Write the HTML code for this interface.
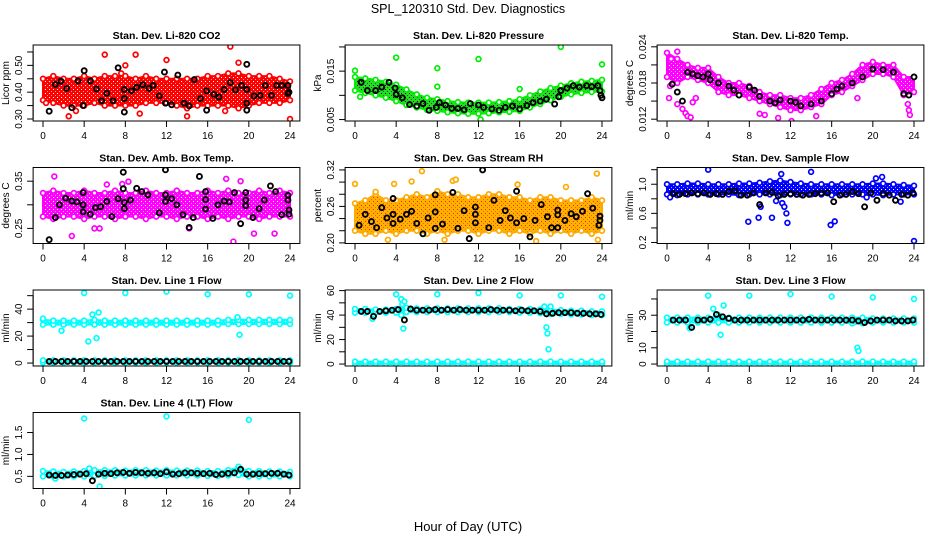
<!DOCTYPE html>
<html><head><meta charset="utf-8"><style>
html,body{margin:0;padding:0;background:#fff}
svg{display:block;font-family:"Liberation Sans",Arial,sans-serif}
</style></head><body>
<svg id="chart" width="936" height="540" viewBox="0 0 936 540" xmlns="http://www.w3.org/2000/svg">
<defs id="defs"></defs>
<rect width="936" height="540" fill="#fff"/>
<text x="468" y="13" text-anchor="middle" font-size="12.5">SPL_120310  Std. Dev. Diagnostics</text>
<text x="468" y="531" text-anchor="middle" font-size="13">Hour of Day (UTC)</text>
</svg>
<script>
const xTicks = [0,4,8,12,16,20,24];
const hours = [0,1,2,3,4,5,6,7,8,9,10,11,12,13,14,15,16,17,18,19,20,21,22,23,24];
const flowTimes = [0.6,1.2,1.8,2.4,3.0,3.6,4.2,4.8,5.4,6.0,6.6,7.2,7.8,8.4,9.0,9.6,10.2,10.8,11.4,12.0,12.6,13.2,13.8,14.4,15.0,15.6,16.2,16.8,17.4,18.0,18.6,19.2,19.8,20.4,21.0,21.6,22.2,22.8,23.4,23.9];

// CO2
const co2Lo = [0.37,0.36,0.35,0.35,0.35,0.36,0.35,0.35,0.35,0.35,0.36,0.36,0.36,0.35,0.34,0.35,0.35,0.35,0.35,0.34,0.35,0.36,0.36,0.36,0.37];
const co2Hi = [0.45,0.46,0.45,0.45,0.46,0.45,0.46,0.46,0.46,0.45,0.46,0.45,0.45,0.45,0.45,0.45,0.46,0.46,0.47,0.47,0.46,0.46,0.46,0.45,0.44];
const co2Out = [[0.3,0.36],[3.2,0.33],[6,0.54],[7.6,0.47],[8,0.5],[9,0.54],[9.4,0.32],[12,0.52],[14,0.31],[17.7,0.33],[18.2,0.57],[19,0.51],[24,0.3],[2.5,0.31]];
const co2Black = [[0.6,0.329],[1.2,0.429],[1.75,0.441],[2.3,0.414],[2.8,0.342],[3.4,0.442],[3.9,0.35],[4,0.48],[4.6,0.442],[5.2,0.412],[5.7,0.368],[6.2,0.396],[6.8,0.368],[7.3,0.491],[7.9,0.326],[7.9,0.376],[7.9,0.41],[8.6,0.405],[9.1,0.418],[9.7,0.428],[10.3,0.414],[10.7,0.425],[11.3,0.386],[11.8,0.475],[11.9,0.359],[12.5,0.353],[13.1,0.464],[13.7,0.359],[14.2,0.349],[14.7,0.447],[15.3,0.376],[15.9,0.333],[15.9,0.405],[16.6,0.392],[17.1,0.382],[17.6,0.41],[18.2,0.436],[18.7,0.409],[19.3,0.425],[19.8,0.504],[19.8,0.359],[19.8,0.333],[19.8,0.41],[20.5,0.386],[21.1,0.388],[21.6,0.425],[22.2,0.388],[22.7,0.425],[23.2,0.425],[23.8,0.425],[23.8,0.395],[23.9,0.40]];
const co2Ticks = [0.30,0.35,0.40,0.45,0.50,0.55];
const co2Labels = ["0.30","","0.40","","0.50",""];

// Pressure
const presLo = [0.0110,0.0105,0.0100,0.0095,0.0088,0.0080,0.0075,0.0070,0.0068,0.0065,0.0063,0.0062,0.0062,0.0063,0.0065,0.0066,0.0068,0.0075,0.0082,0.0090,0.0097,0.0102,0.0105,0.0107,0.0108];
const presHi = [0.0138,0.0135,0.0132,0.0128,0.0122,0.0112,0.0102,0.0095,0.0092,0.0088,0.0086,0.0085,0.0085,0.0085,0.0086,0.0088,0.0092,0.0100,0.0108,0.0115,0.0120,0.0125,0.0128,0.0130,0.0132];
const presOut = [[0,0.0151],[4,0.0178],[8,0.0156],[8,0.0118],[12,0.0175],[16,0.0113],[20,0.0200],[24,0.0164],[0.5,0.0097],[12.2,0.0050]];
const presBlack = [[0.6,0.0127],[1.2,0.0110],[2,0.0110],[2.6,0.0117],[3.3,0.0127],[3.9,0.0115],[4,0.0102],[4.6,0.0095],[5.3,0.0081],[6,0.0078],[6.6,0.0083],[7.2,0.0069],[7.9,0.0075],[8.2,0.0085],[8.8,0.0080],[9.4,0.0073],[10,0.0073],[10.6,0.0070],[11.2,0.0083],[12,0.0080],[12.5,0.0075],[13.3,0.0072],[14,0.0069],[14.6,0.0075],[15.3,0.0078],[16,0.0072],[16.7,0.0079],[17.3,0.0085],[18,0.0088],[18.6,0.0092],[19.4,0.0082],[19.8,0.0097],[20,0.0110],[20.6,0.0115],[21.2,0.0120],[21.8,0.0117],[22.5,0.0120],[23,0.0118],[23.6,0.0120],[23.8,0.0110],[23.9,0.0100],[24,0.0095]];
const presTicks = [0.005,0.010,0.015,0.020];
const presLabels = ["0.005","","0.015",""];

// Li-820 temp
const tempLo = [0.0190,0.0180,0.0190,0.0185,0.0180,0.0165,0.0160,0.0160,0.0155,0.0150,0.0145,0.0140,0.0135,0.0135,0.0140,0.0145,0.0160,0.0165,0.0175,0.0185,0.0195,0.0195,0.0190,0.0160,0.0165];
const tempHi = [0.0230,0.0220,0.0210,0.0205,0.0205,0.0190,0.0180,0.0180,0.0175,0.0165,0.0160,0.0160,0.0155,0.0155,0.0160,0.0170,0.0180,0.0185,0.0195,0.0210,0.0215,0.0210,0.0210,0.0190,0.0190];
const tempOut = [[0.2,0.0155],[0.3,0.0175],[1,0.0145],[1.5,0.0137],[1.8,0.013],[2,0.0125],[2.3,0.0123],[2.5,0.0148],[2.8,0.0155],[0.4,0.022],[1,0.0232],[9.5,0.0127],[9,0.0129],[10.8,0.0122],[14.5,0.0125],[23.5,0.0135],[23.6,0.0127],[23.4,0.0145],[12.1,0.0117],[18.5,0.0155]];
const tempBlack = [[0.5,0.0178],[1,0.0165],[1.5,0.0150],[2,0.0198],[2.5,0.0195],[3,0.0192],[3.5,0.019],[4,0.0195],[4.2,0.0185],[5,0.0180],[6,0.0175],[6.5,0.0168],[7,0.016],[8,0.0173],[8.5,0.0168],[9,0.0158],[10,0.015],[10.5,0.0147],[11,0.0152],[12,0.0150],[12.5,0.0148],[13,0.0142],[14,0.0145],[15,0.015],[16,0.0162],[16.5,0.017],[17,0.0175],[18,0.018],[19,0.019],[20,0.0203],[21,0.0202],[22,0.0198],[23,0.0162],[23.5,0.0160],[24,0.019]];
const tempTicks = [0.012,0.015,0.018,0.021,0.024];
const tempLabels = ["0.012","","0.018","","0.024"];

// Amb box temp
const ambLo = [0.275,0.27,0.275,0.275,0.27,0.275,0.275,0.27,0.275,0.275,0.27,0.275,0.275,0.27,0.275,0.275,0.27,0.275,0.27,0.275,0.275,0.27,0.275,0.275,0.275];
const ambHi = [0.325,0.33,0.325,0.325,0.33,0.325,0.325,0.33,0.325,0.325,0.33,0.325,0.325,0.33,0.325,0.325,0.33,0.325,0.33,0.325,0.325,0.33,0.325,0.33,0.325];
const ambOut = [[1.1,0.36],[2.8,0.234],[7.7,0.344],[8.3,0.349],[18.5,0.222],[20.5,0.239],[22.5,0.239],[5,0.25],[5.5,0.25],[14.2,0.25],[17.8,0.355],[19.2,0.35],[6.2,0.343]];
const ambBlack = [[0.6,0.226],[1.2,0.273],[1.6,0.300],[2.2,0.314],[2.8,0.308],[3.3,0.306],[3.9,0.326],[3.9,0.30],[3.9,0.285],[4.6,0.28],[5.1,0.294],[5.6,0.296],[6.2,0.307],[6.7,0.275],[7.3,0.313],[7.8,0.369],[7.8,0.334],[7.9,0.305],[7.9,0.292],[8.5,0.31],[9.1,0.335],[9.6,0.328],[10.2,0.321],[11.3,0.283],[11.9,0.374],[11.9,0.321],[11.9,0.307],[12.5,0.313],[13,0.30],[13.6,0.279],[14.2,0.252],[14.6,0.273],[15.2,0.36],[15.8,0.328],[15.8,0.291],[15.8,0.311],[16.5,0.271],[17,0.30],[17.6,0.308],[18.1,0.306],[18.6,0.326],[19.2,0.26],[19.7,0.326],[19.7,0.31],[19.7,0.298],[20.4,0.273],[21,0.292],[21.5,0.31],[22.1,0.34],[22.6,0.328],[23.2,0.279],[23.8,0.32],[23.8,0.31],[23.9,0.289],[23.9,0.28]];
const ambTicks = [0.25,0.30,0.35];
const ambLabels = ["0.25","","0.35"];

// Gas stream RH
const rhLo = [0.22,0.215,0.215,0.22,0.215,0.22,0.22,0.215,0.22,0.215,0.22,0.22,0.215,0.22,0.22,0.215,0.22,0.215,0.22,0.215,0.22,0.215,0.22,0.215,0.22];
const rhHi = [0.265,0.27,0.28,0.27,0.27,0.275,0.28,0.275,0.285,0.28,0.28,0.275,0.275,0.28,0.28,0.275,0.275,0.27,0.275,0.275,0.27,0.27,0.27,0.275,0.27];
const rhOut = [[0,0.297],[2,0.284],[3.8,0.297],[5.5,0.301],[6.5,0.318],[9.5,0.302],[9.8,0.304],[15.8,0.296],[17.6,0.203],[8.7,0.205],[23.5,0.314],[3.2,0.205],[20.5,0.292],[23.6,0.205]];
const rhBlack = [[0.4,0.229],[1.0,0.247],[1.6,0.235],[2.1,0.225],[2.6,0.258],[3.1,0.241],[3.7,0.273],[3.7,0.232],[3.7,0.247],[4.4,0.239],[5,0.247],[5.5,0.252],[6,0.232],[6.6,0.215],[7.1,0.241],[7.8,0.279],[7.8,0.251],[7.8,0.224],[8.5,0.231],[9.5,0.283],[10,0.224],[10.6,0.253],[11.1,0.207],[11.7,0.259],[11.7,0.233],[11.7,0.247],[12.4,0.32],[13,0.225],[13.5,0.27],[14.1,0.237],[14.6,0.253],[15.1,0.241],[15.7,0.233],[15.7,0.285],[16.4,0.24],[17,0.21],[17.5,0.237],[18.1,0.263],[18.7,0.243],[19.1,0.225],[19.7,0.254],[19.7,0.225],[19.7,0.246],[20.4,0.237],[21,0.248],[21.5,0.243],[22.1,0.252],[22.6,0.281],[23.1,0.257],[23.7,0.229],[23.8,0.244],[23.8,0.237]];
const rhTicks = [0.20,0.22,0.24,0.26,0.28,0.30,0.32];
const rhLabels = ["0.20","","","0.26","","","0.32"];

// Sample flow
const sampLo = [0.86,0.85,0.86,0.86,0.86,0.86,0.86,0.85,0.86,0.86,0.86,0.85,0.86,0.86,0.86,0.86,0.85,0.86,0.86,0.86,0.86,0.85,0.86,0.86,0.86];
const sampHi = [1.0,1.0,1.01,1.01,1.0,1.0,1.0,1.01,1.01,1.02,1.04,1.05,1.03,1.01,1.0,1.0,1.0,1.0,1.0,1.0,1.01,1.01,1.0,0.99,0.98];
const sampOut = [[4,1.20],[7.9,0.485],[8.9,0.54],[9.1,0.69],[10.2,0.54],[10.6,0.77],[11.2,0.74],[11.4,0.69],[11.6,0.6],[11.7,0.47],[11.1,1.14],[14,1.17],[15.9,0.44],[16.3,0.49],[19.4,0.82],[22.7,0.76],[24,0.22],[20.3,1.08],[20.9,1.1],[0.3,0.82]];
const sampBlack = [0.87,0.86,0.87,0.88,0.87,0.88,0.86,0.87,0.86,0.90,0.91,0.85,0.85,0.88,0.72,0.88,0.89,0.84,0.86,0.87,0.86,0.85,0.86,0.87,0.88,0.88,0.76,0.85,0.86,0.90,0.87,0.69,0.88,0.78,0.87,0.85,0.78,0.86,0.85,0.88];
const sampTicks = [0.2,0.4,0.6,0.8,1.0,1.2];
const sampLabels = ["0.2","","0.6","","1.0",""];

// Line 1
const l1Lo = [28.5,28.5,28.5,28.5,28.5,28.5,28.5,28.5,28.5,28.5,28.5,28.5,28.5,28.5,28.5,28.5,28.5,28.5,29,29,29,29,29,29,29];
const l1Hi = [32,31.5,31.5,31.5,31.5,32,31.5,31.5,31.5,31.5,31.5,31.5,31.5,31.5,31.5,31.5,31.5,31.5,32,32,32,32,32,32,32];
const l1Lo2 = [0.3,0.3,0.3,0.3,0.3,0.3,0.3,0.3,0.3,0.3,0.3,0.3,0.3,0.3,0.3,0.3,0.3,0.3,0.3,0.3,0.3,0.3,0.3,0.3,0.3];
const l1Hi2 = [2,2,2,2,2,2,2,2,2,2,2,2,2,2,2,2,2,2,2,2,2,2,2,2,2];
const l1Out = [[4,52],[8,52],[12,53],[16,51],[20,51],[24,50],[0,33],[1.8,24],[4.4,16],[4.8,36],[5.2,18.5],[5.4,37.5],[18.9,34],[19.1,21]];
const l1Black = [1.2,1.2,1.2,1.2,1.2,1.2,1.2,1.2,1.2,1.2,1.2,1.2,1.2,1.2,1.2,1.2,1.2,1.2,1.2,1.2,1.2,1.2,1.2,1.2,1.2,1.2,1.2,1.2,1.2,1.2,1.2,1.2,1.2,1.2,1.2,1.2,1.2,1.2,1.2,1.2];
const l1Ticks = [0,10,20,30,40,50];
const l1Labels = ["0","","20","","40",""];

// Line 2
const l2Lo = [42,42,42,42,42,42.5,42.5,42.5,42.5,42.5,42.5,42.5,42.5,42.5,42.5,42.5,42,42,41.5,41,41,40.5,40.5,40,40];
const l2Hi = [45,45,44.5,44.5,45,46,45.5,45.5,45.5,45.5,45.5,45.5,45.5,45.5,45.5,45,45,45,44.5,44.5,44,43.5,43.5,43,43];
const l2Lo2 = [0,0,0,0,0,0,0,0,0,0,0,0,0,0,0,0,0,0,0,0,0,0,0,0,0];
const l2Hi2 = [2,2,2,2,2,2,2,2,2,2,2,2,2,2,2,2,2,2,2,2,2,2,2,2,2];
const l2Out = [[4,57],[4.5,53],[4.6,49],[4.8,51],[4.5,40],[4.7,29],[8,57],[12,58],[16,56],[18.4,47],[18.6,30],[18.7,25],[18.8,12],[19,47],[20,56],[24,55],[1.7,37]];
const l2Black = [43,43,39,43,43.5,44,44.5,36,45,44,44,44,44.5,44,44.5,44,44.5,44,44,44,44,44.5,44,44,44,43.5,44,43.5,43.5,43,41,41.5,42,42,42,41.5,41.5,41,41,40.5];
const l2Ticks = [0,10,20,30,40,50,60];
const l2Labels = ["0","","20","","40","","60"];

// Line 3
const l3Lo = [25.5,25.5,25.5,25.5,25.5,25.5,25.5,25.5,25.5,25.5,25.5,25.5,25.5,25.5,25.5,25.5,25.5,25.5,25,25,25.5,25.5,25.5,25.5,25.5];
const l3Hi = [28.5,28.5,28.5,28.5,28.5,29,28.5,28.5,28.5,28.5,28.5,28.5,28.5,28.5,28.5,28.5,28.5,28.5,28.5,28.5,28,28,28,28,28];
const l3Lo2 = [0,0,0,0,0,0,0,0,0,0,0,0,0,0,0,0,0,0,0,0,0,0,0,0,0];
const l3Hi2 = [1.5,1.5,1.5,1.5,1.5,1.5,1.5,1.5,1.5,1.5,1.5,1.5,1.5,1.5,1.5,1.5,1.5,1.5,1.5,1.5,1.5,1.5,1.5,1.5,1.5];
const l3Out = [[4,42],[8,42],[12,43],[16,41.5],[20,41],[24,40],[4.5,34],[5,30],[5.5,36],[5.2,18],[2.2,22],[18.5,10],[18.6,8],[18.3,26]];
const l3Black = [27,27,27,22.5,27,27,27.5,30.5,29,28,27,27,27,27,27,27,27,27,27,27,27,27,27.5,27,27,27,27,27,27,27,26.5,25.5,26.5,27,27,27,26.5,26.5,26.5,27];
const l3Ticks = [0,10,20,30,40];
const l3Labels = ["0","10","","30",""];

// Line 4
const l4Lo = [0.5,0.5,0.5,0.5,0.5,0.51,0.51,0.52,0.52,0.52,0.52,0.52,0.52,0.52,0.52,0.52,0.51,0.51,0.52,0.53,0.5,0.5,0.5,0.5,0.5];
const l4Hi = [0.62,0.61,0.6,0.61,0.62,0.64,0.64,0.64,0.63,0.64,0.64,0.63,0.64,0.63,0.63,0.63,0.62,0.62,0.64,0.7,0.62,0.62,0.61,0.61,0.6];
const l4Out = [[4,1.82],[12,1.87],[20,1.79],[4.5,0.68],[5.5,0.27],[1.2,0.45],[19,0.72]];
const l4Black = [0.53,0.52,0.52,0.53,0.54,0.55,0.56,0.40,0.55,0.57,0.56,0.58,0.59,0.57,0.59,0.58,0.57,0.58,0.56,0.60,0.55,0.56,0.58,0.58,0.57,0.56,0.57,0.54,0.55,0.57,0.58,0.66,0.55,0.55,0.56,0.56,0.57,0.57,0.55,0.53];
const l4Ticks = [0.5,1.0,1.5];
const l4Labels = ["0.5","1.0","1.5"];

const NS = "http://www.w3.org/2000/svg";
const svg = document.getElementById('chart');
const defs = document.getElementById('defs');
function mk(tag, attrs, parent){const e=document.createElementNS(NS,tag);for(const k in attrs)e.setAttribute(k,attrs[k]);(parent||svg).appendChild(e);return e;}
function pairs(ts, vs){return ts.map((t,i)=>[t,vs[i]]);}

const panels = [
 {key:'co2',title:'Stan. Dev. Li-820 CO2',ylab:'Licor ppm',col:0,row:0,y0:0.2925,y1:0.576,color:'#ff0000',fill:'#ff0000',dot:'#ffffff',bands:[[co2Lo,co2Hi]],out:co2Out,black:co2Black,ticks:co2Ticks,labels:co2Labels},
 {key:'pres',title:'Stan. Dev. Li-820 Pressure',ylab:'kPa',col:1,row:0,y0:0.0047,y1:0.0204,color:'#00ee00',fill:'#22dd22',dot:'#000000',bands:[[presLo,presHi]],out:presOut,black:presBlack,ticks:presTicks,labels:presLabels},
 {key:'temp',title:'Stan. Dev. Li-820 Temp.',ylab:'degrees C',col:2,row:0,y0:0.0117,y1:0.0243,color:'#ff00ff',fill:'#ff00ff',dot:'#ffffff',bands:[[tempLo,tempHi]],out:tempOut,black:tempBlack,ticks:tempTicks,labels:tempLabels},
 {key:'amb',title:'Stan. Dev. Amb. Box Temp.',ylab:'degrees C',col:0,row:1,y0:0.218,y1:0.379,color:'#ff00ff',fill:'#ff00ff',dot:'#ffffff',bands:[[ambLo,ambHi]],out:ambOut,black:ambBlack,ticks:ambTicks,labels:ambLabels},
 {key:'rh',title:'Stan. Dev. Gas Stream RH',ylab:'percent',col:1,row:1,y0:0.199,y1:0.324,color:'#ffaa00',fill:'#ffb300',dot:'#ff2000',bands:[[rhLo,rhHi]],out:rhOut,black:rhBlack,ticks:rhTicks,labels:rhLabels},
 {key:'samp',title:'Stan. Dev. Sample Flow',ylab:'ml/min',col:2,row:1,y0:0.186,y1:1.23,color:'#0000ff',fill:'#0000ff',dot:'#ffffff',bands:[[sampLo,sampHi]],out:sampOut,black:pairs(flowTimes,sampBlack),ticks:sampTicks,labels:sampLabels},
 {key:'l1',title:'Stan. Dev. Line 1 Flow',ylab:'ml/min',col:0,row:2,y0:-2.2,y1:54.2,color:'#00ffff',fill:'#00ffff',dot:'#ffffff',bands:[[l1Lo,l1Hi],[l1Lo2,l1Hi2]],out:l1Out,black:pairs(flowTimes,l1Black),ticks:l1Ticks,labels:l1Labels},
 {key:'l2',title:'Stan. Dev. Line 2 Flow',ylab:'ml/min',col:1,row:2,y0:-1.6,y1:60.5,color:'#00ffff',fill:'#00ffff',dot:'#ffffff',bands:[[l2Lo,l2Hi],[l2Lo2,l2Hi2]],out:l2Out,black:pairs(flowTimes,l2Black),ticks:l2Ticks,labels:l2Labels},
 {key:'l3',title:'Stan. Dev. Line 3 Flow',ylab:'ml/min',col:2,row:2,y0:-1.2,y1:45.5,color:'#00ffff',fill:'#00ffff',dot:'#ffffff',bands:[[l3Lo,l3Hi],[l3Lo2,l3Hi2]],out:l3Out,black:pairs(flowTimes,l3Black),ticks:l3Ticks,labels:l3Labels},
 {key:'l4',title:'Stan. Dev. Line 4 (LT) Flow',ylab:'ml/min',col:0,row:3,y0:0.223,y1:1.957,color:'#00ffff',fill:'#00ffff',dot:'#ffffff',bands:[[l4Lo,l4Hi]],out:l4Out,black:pairs(flowTimes,l4Black),ticks:l4Ticks,labels:l4Labels}
];

const colX0 = [43,355,667], pxH = 247/24, rowTop = [45,167.5,290,412.5], boxH = 76;

panels.forEach(p=>{
  const pat = mk('pattern',{id:'pat-'+p.key,width:4,height:4,patternUnits:'userSpaceOnUse'}, defs);
  mk('rect',{width:4,height:4,fill:p.fill}, pat);
  mk('rect',{x:1,y:1,width:1,height:1,fill:p.dot}, pat);
  mk('rect',{x:3,y:3,width:1,height:1,fill:p.dot,opacity:0.6}, pat);
  const g = mk('g',{});
  
  
  const x = t => colX0[p.col] + t*pxH;
  const top = rowTop[p.row], bot = top+boxH;
  const y = v => bot - (v-p.y0)/(p.y1-p.y0)*boxH;
  const L = x(-0.96), R = x(24.96);
  const clip = mk('clipPath',{id:'clip-'+p.key}, g);
  mk('rect',{x:L,y:top,width:R-L,height:boxH}, clip);
  const marks = mk('g',{'clip-path':'url(#clip-'+p.key+')'}, g);
  p.bands.forEach((b,bi)=>{
    const lo=b[0], hi=b[1];
    const upper = hours.map((h,i)=>x(h)+','+y(hi[i]));
    const lower = hours.map((h,i)=>x(h)+','+y(lo[i])).reverse();
    const d = 'M'+upper.join('L')+'L'+lower.join('L')+'Z';
    const poly = mk('path',{d:d,fill:'url(#pat-'+p.key+')',stroke:p.color,'stroke-width':2,'stroke-linejoin':'round'}, marks);
    
    
    hours.forEach((h,i)=>{
      [lo[i],hi[i]].forEach(v=>{
        const c = mk('circle',{cx:x(h),cy:y(v),r:2.4,fill:'#fff',stroke:p.color,'stroke-width':1.7}, marks);
        
        
      });
    });
  });
  p.out.forEach(o=>{
    const c = mk('circle',{cx:x(o[0]),cy:y(o[1]),r:2.4,fill:'#fff',stroke:p.color,'stroke-width':1.7}, marks);
    
    
  });
  p.black.forEach(o=>{
    const c = mk('circle',{cx:x(o[0]),cy:y(o[1]),r:2.5,fill:'none',stroke:'#000','stroke-width':1.9}, marks);
    
    
  });
  mk('rect',{x:L,y:top,width:R-L,height:boxH,fill:'none',stroke:'#000','stroke-width':1}, g);
  const t = mk('text',{x:(L+R)/2,y:top-6,'text-anchor':'middle','font-size':10.5,'font-weight':'bold'}, g);
  t.textContent = p.title;
  
  
  mk('line',{x1:x(0),x2:x(24),y1:bot,y2:bot,stroke:'#000'}, g);
  xTicks.forEach(v=>{
    mk('line',{x1:x(v),x2:x(v),y1:bot,y2:bot+6,stroke:'#000'}, g);
    const tl = mk('text',{x:x(v),y:bot+18,'text-anchor':'middle','font-size':10}, g);
    tl.textContent = v;
    
    
  });
  mk('line',{x1:L,x2:L,y1:y(p.ticks[0]),y2:y(p.ticks[p.ticks.length-1]),stroke:'#000'}, g);
  p.ticks.forEach((v,i)=>{
    mk('line',{x1:L-6,x2:L,y1:y(v),y2:y(v),stroke:'#000'}, g);
    if(p.labels[i]){
      const yl = mk('text',{x:0,y:0,'text-anchor':'middle','font-size':10,transform:'translate('+(L-11)+','+y(v)+') rotate(-90)'}, g);
      yl.textContent = p.labels[i];
      
      
    }
  });
  const yt = mk('text',{x:0,y:0,'text-anchor':'middle','font-size':10,transform:'translate('+(L-24)+','+(top+boxH/2)+') rotate(-90)'}, g);
  yt.textContent = p.ylab;
  
  
});
</script>
</body></html>
